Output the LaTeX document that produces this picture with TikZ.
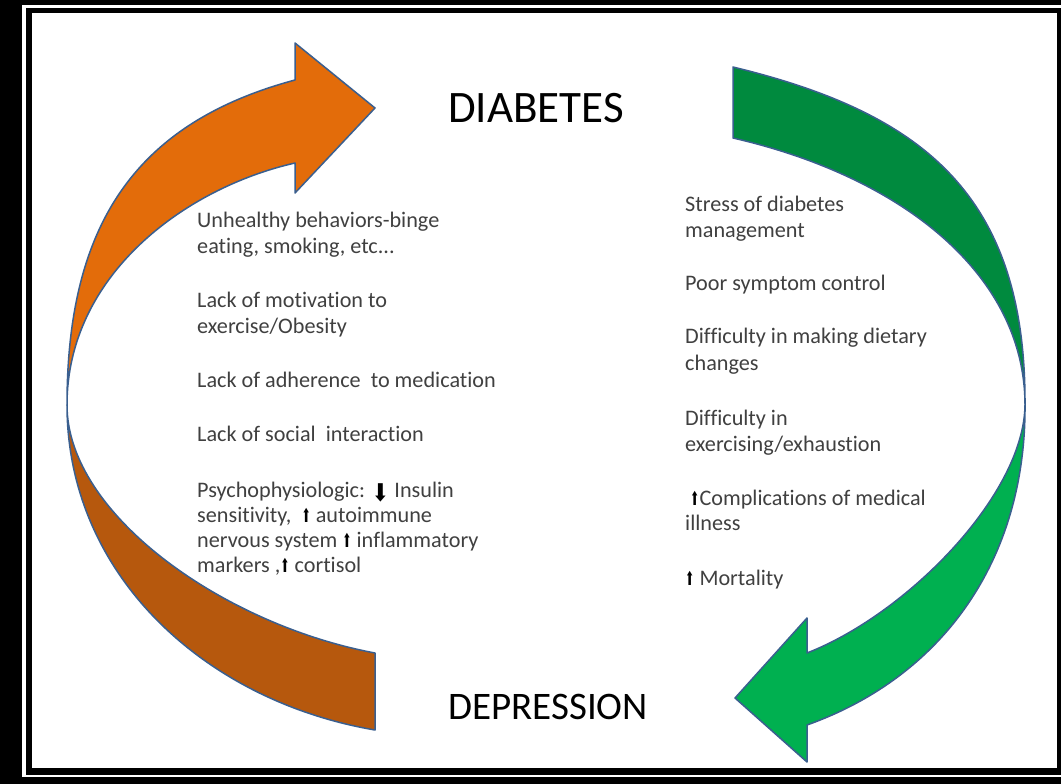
\documentclass[tikz,border=0pt]{standalone}
\usepackage{fontspec}
\usepackage{graphicx}
\setmainfont{Carlito}[Ligatures=NoCommon]
\newfontfamily\symfont{DejaVu Sans}
\definecolor{orangetop}{RGB}{227,108,10}
\definecolor{orangebot}{RGB}{182,88,13}
\definecolor{greentop}{RGB}{0,138,62}
\definecolor{greenbot}{RGB}{0,176,80}
\definecolor{edgeblue}{RGB}{58,95,143}
\definecolor{txtgray}{RGB}{64,64,64}
\newcommand{\uparr}{{\color{black}\scalebox{0.5}[0.85]{\symfont ⬆}}}
\newcommand{\downarr}{{\color{black}\raisebox{-0.2em}{\scalebox{0.95}[1.1]{\symfont ⬇}}}}
\tikzset{
  item/.style={anchor=base west, inner sep=0pt, text=txtgray,
    font=\fontsize{22.2}{26}\selectfont},
  head/.style={anchor=base west, inner sep=0pt, text=black},
  band/.style={draw=edgeblue, line width=1.5pt, line join=round}
}
\begin{document}
\begin{tikzpicture}[x=1pt,y=-1pt]
    \useasboundingbox (0,0) rectangle (1061,784);
    % frame
    \fill[black] (0,0) rectangle (1061,784);
    \fill[white] (22,5) rectangle (1061,777);
    \fill[black] (26,8) rectangle (1061,775);
    \fill[white] (32,13) rectangle (1057,768);
    % left arrow
    \filldraw[band, fill=orangetop] (67,405) .. controls (67,225) and (135,123) .. (295,80)
        -- (295,43) -- (375,108) -- (295,193) -- (295,163)
        .. controls (185,188) and (67,275) .. (67,405) -- cycle;
    \filldraw[band, fill=orangebot] (67,405) .. controls (67,575) and (205,701) .. (375,730)
        -- (375,653) .. controls (225,625) and (67,515) .. (67,405) -- cycle;
    % right arrow
    \filldraw[band, fill=greentop] (733,67) .. controls (923,113) and (1026,195) .. (1025,405)
        .. controls (1025,275) and (903,177) .. (733,138) -- cycle;
    \filldraw[band, fill=greenbot] (1025,405) .. controls (1026,555) and (947,675) .. (807,725)
        -- (807,762) -- (735,698) -- (807,618) -- (807,653)
        .. controls (907,614) and (1024,495) .. (1025,405) -- cycle;
    % titles
    \node[head, font=\fontsize{45}{54}\selectfont] (diab) at (448,122) {DIABETES};
    \node[head, font=\fontsize{39}{47}\selectfont] (depr) at (448,719) {DEPRESSION};
    % left column
    \foreach \y/\txt [count=\i] in {227/{Unhealthy behaviors-binge},
        253/{eating, smoking, etc...},
        307/{Lack of motivation to},
        333/{exercise/Obesity},
        387/{Lack of adherence\ \ to medication},
        441/{Lack of social\ \ interaction},
        497/{Psychophysiologic: \downarr{} Insulin},
        522/{sensitivity,\ \ \uparr{} autoimmune},
        547/{nervous system \uparr{} inflammatory},
        572/{markers ,\uparr{} cortisol}}
        \node[item] (lft\i) at (197,\y) {\txt};
    % right column
    \foreach \y/\txt [count=\i] in {211/{Stress of diabetes},
        237/{management},
        290/{Poor symptom control},
        343/{Difficulty in making dietary},
        370/{changes},
        425/{Difficulty in},
        451/{exercising/exhaustion},
        505/{\ \uparr{}Complications of medical},
        530/{illness},
        585/{\uparr{} Mortality}}
        \node[item] (rgt\i) at (685,\y) {\txt};
\end{tikzpicture}
\end{document}
